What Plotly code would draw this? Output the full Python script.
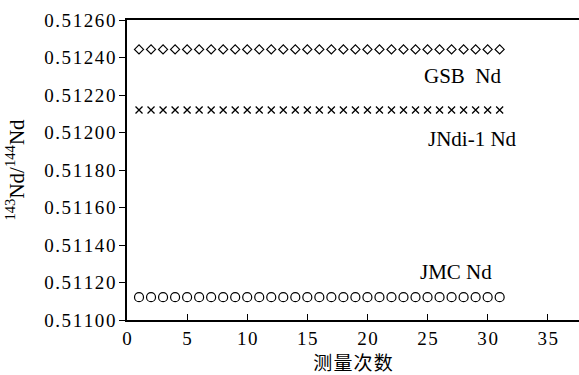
import plotly.graph_objects as go

runs = list(range(1, 32))
gsb_nd = [0.512443] * 31
jndi1_nd = [0.512120] * 31
jmc_nd = [0.511122] * 31

y_ticks = [0.5110, 0.5112, 0.5114, 0.5116, 0.5118, 0.5120, 0.5122, 0.5124, 0.5126]
y_tick_text = ["0.51100", "0.51120", "0.51140", "0.51160", "0.51180",
               "0.51200", "0.51220", "0.51240", "0.51260"]
x_ticks = [0, 5, 10, 15, 20, 25, 30, 35]

font = "Liberation Serif"
HS = "\u200a"  # hair space for the wide-set digits


def spaced(s):
    return HS.join(s)


fig = go.Figure()
fig.add_trace(go.Scatter(x=runs, y=gsb_nd, mode="markers",
                         marker=dict(symbol="diamond-open", size=7, color="black",
                                     line=dict(width=1.2, color="black"))))
fig.add_trace(go.Scatter(x=runs, y=jndi1_nd, mode="markers",
                         marker=dict(symbol="x-thin-open", size=7, color="black",
                                     line=dict(width=1.3, color="black"))))
fig.add_trace(go.Scatter(x=runs, y=jmc_nd, mode="markers",
                         marker=dict(symbol="circle-open", size=9, color="black",
                                     line=dict(width=1.2, color="black"))))

labels = [("GSB\u2002Nd", 0.512301, 31.35), ("JNdi-1 Nd", 0.511965, 32.6),
          ("JMC Nd", 0.511256, 30.55)]
for text, yv, xv in labels:
    fig.add_annotation(x=xv, y=yv, text=text, showarrow=False,
                       xanchor="right", font=dict(family=font, size=21, color="black"))

fig.update_layout(
    width=579, height=375,
    margin=dict(l=127, r=0, t=20, b=55),
    paper_bgcolor="white", plot_bgcolor="white",
    showlegend=False,
    font=dict(family=font, size=19, color="black"),
)
fig.update_xaxes(range=[0, 37.6], tickvals=x_ticks,
                 ticktext=[spaced(str(v)) for v in x_ticks],
                 ticks="inside", ticklen=6,
                 tickcolor="black", showline=True, linecolor="black", linewidth=1.5,
                 mirror=True, showgrid=False, zeroline=False,
                 title=dict(text=spaced("测量次数"),
                            font=dict(family="Noto Sans CJK SC", size=19),
                            standoff=0))
fig.update_yaxes(range=[0.5110, 0.5126], tickvals=y_ticks,
                 ticktext=[spaced(t) for t in y_tick_text],
                 ticks="outside", ticklen=6, tickcolor="black", showline=True,
                 linecolor="black", linewidth=1.5, showgrid=False, zeroline=False,
                 title=dict(text="<sup>143</sup>Nd/<sup>144</sup>Nd", standoff=14,
                            font=dict(family=font, size=21)))

fig.write_html("out.html")
